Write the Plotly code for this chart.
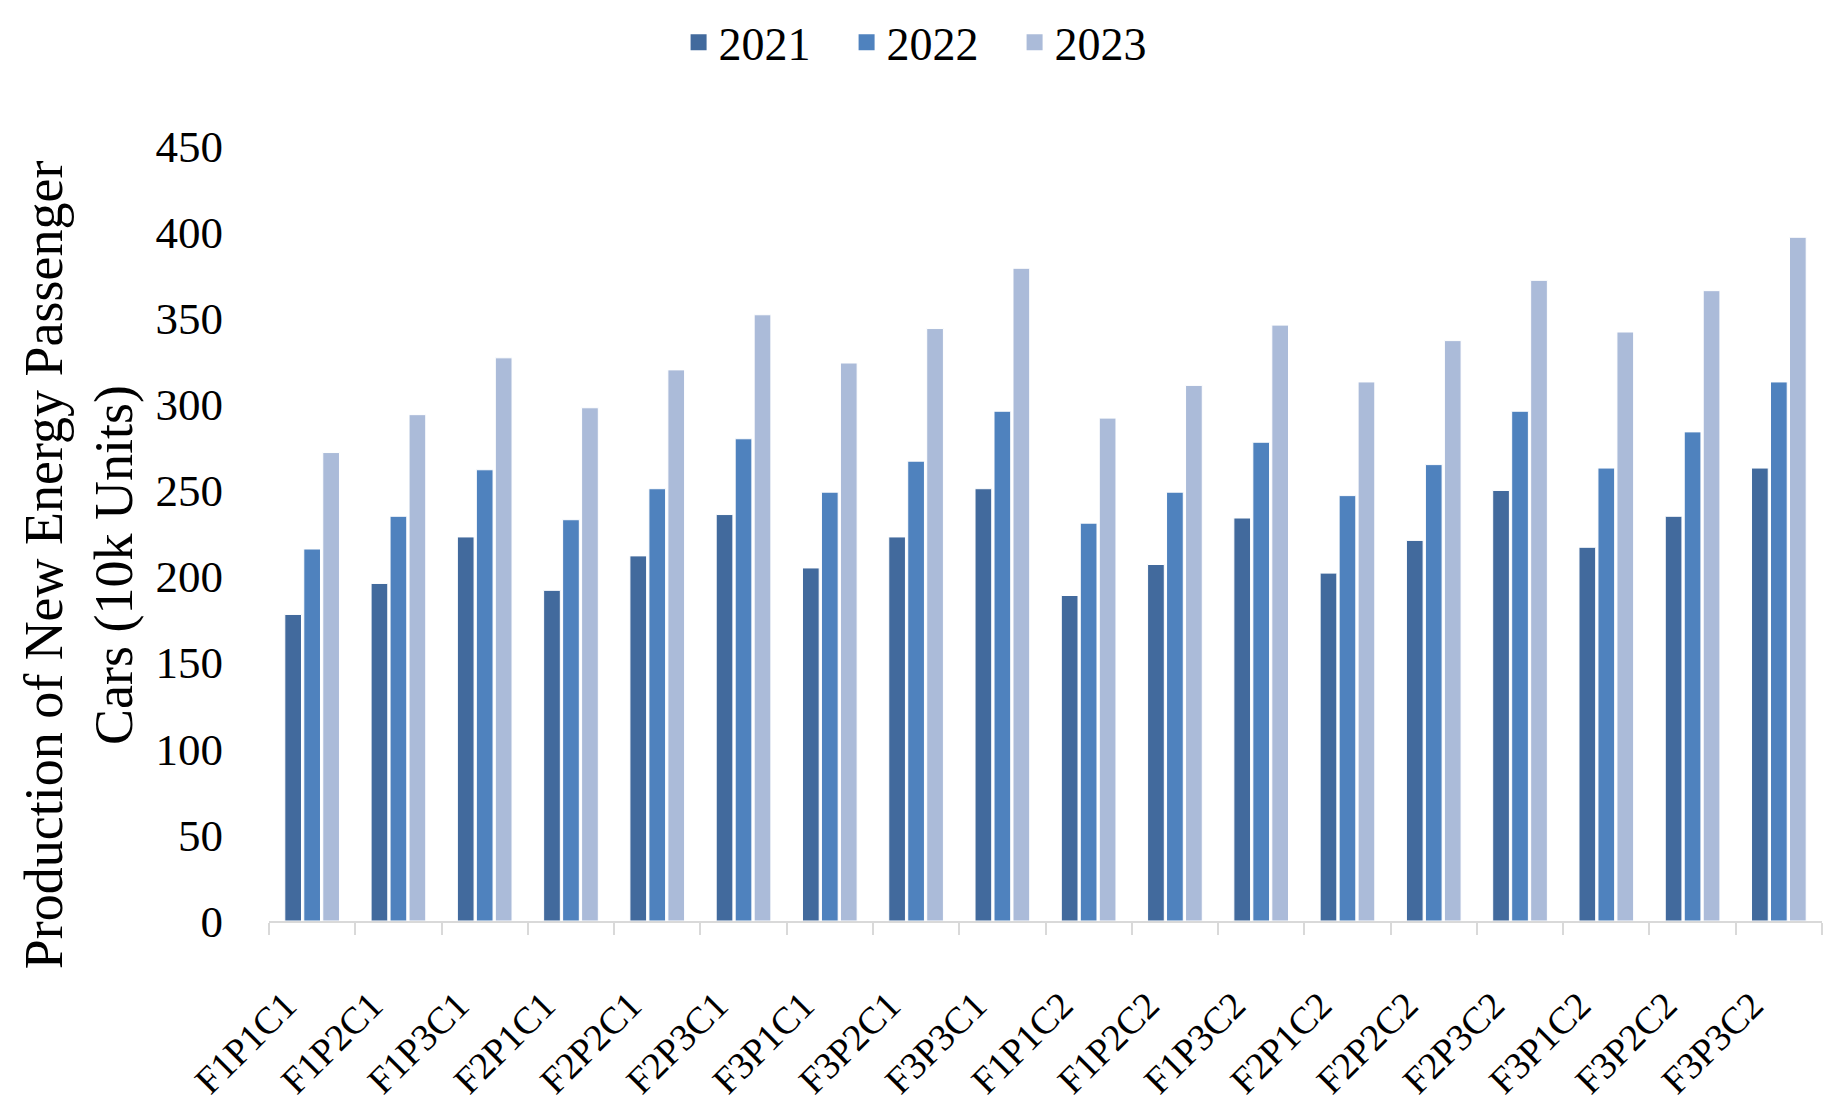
import plotly.graph_objects as go

categories = ["F1P1C1", "F1P2C1", "F1P3C1", "F2P1C1", "F2P2C1", "F2P3C1",
              "F3P1C1", "F3P2C1", "F3P3C1", "F1P1C2", "F1P2C2", "F1P3C2",
              "F2P1C2", "F2P2C2", "F2P3C2", "F3P1C2", "F3P2C2", "F3P3C2"]
y2021 = [178, 196, 223, 192, 212, 236, 205, 223, 251, 189, 207, 234, 202, 221, 250, 217, 235, 263]
y2022 = [216, 235, 262, 233, 251, 280, 249, 267, 296, 231, 249, 278, 247, 265, 296, 263, 284, 313]
y2023 = [272, 294, 327, 298, 320, 352, 324, 344, 379, 292, 311, 346, 313, 337, 372, 342, 366, 397]
series_names = ["2021", "2022", "2023"]
colors = ["#426A9D", "#4F82BE", "#ABBBD9"]

FONT = "Liberation Serif, Times New Roman, serif"

fig = go.Figure()
for name, vals, col in zip(series_names, [y2021, y2022, y2023], colors):
    fig.add_trace(go.Bar(x=categories, y=vals, name=name, marker_color=col,
                         marker_line_color="white", marker_line_width=1,
                         showlegend=False))
for name, col in zip(series_names, colors):
    fig.add_trace(go.Scatter(x=[None], y=[None], mode="markers", name=name,
                             marker=dict(symbol="square", size=24, color=col)))

fig.add_annotation(text="Production of New Energy Passenger<br>Cars (10k Units)",
                   xref="paper", yref="paper", x=-0.1223, y=0.459,
                   xanchor="center", yanchor="middle", textangle=-90,
                   showarrow=False, font=dict(size=54, family=FONT, color="black"))

tick_text = [c + "\u00a0" * 4 for c in categories]

fig.update_layout(
    width=1836, height=1110,
    paper_bgcolor="white", plot_bgcolor="white",
    font=dict(family=FONT, color="black", size=45),
    barmode="group", bargap=0.34, bargroupgap=0.12,
    margin=dict(l=261, r=22, t=138, b=197, autoexpand=False),
    legend=dict(orientation="h", xref="container", yref="container",
                x=0.5025, xanchor="center", y=0.969, yanchor="middle",
                font=dict(size=46, family=FONT), itemwidth=30,
                entrywidth=123, entrywidthmode="pixels",
                traceorder="normal"),
    xaxis=dict(type="category", showline=True, linecolor="#D9D9D9", linewidth=2,
               ticks="outside", tickson="boundaries", ticklen=12, tickcolor="#D9D9D9",
               tickwidth=2, tickangle=-45, showgrid=False, ticklabelstandoff=18,
               tickmode="array", tickvals=categories, ticktext=tick_text,
               tickfont=dict(size=38, family=FONT)),
    yaxis=dict(range=[0, 450], dtick=50, showgrid=False, zeroline=False,
               showline=False, ticks="", ticklabelstandoff=45,
               tickfont=dict(size=45, family=FONT)),
)

fig.write_html("out.html")
